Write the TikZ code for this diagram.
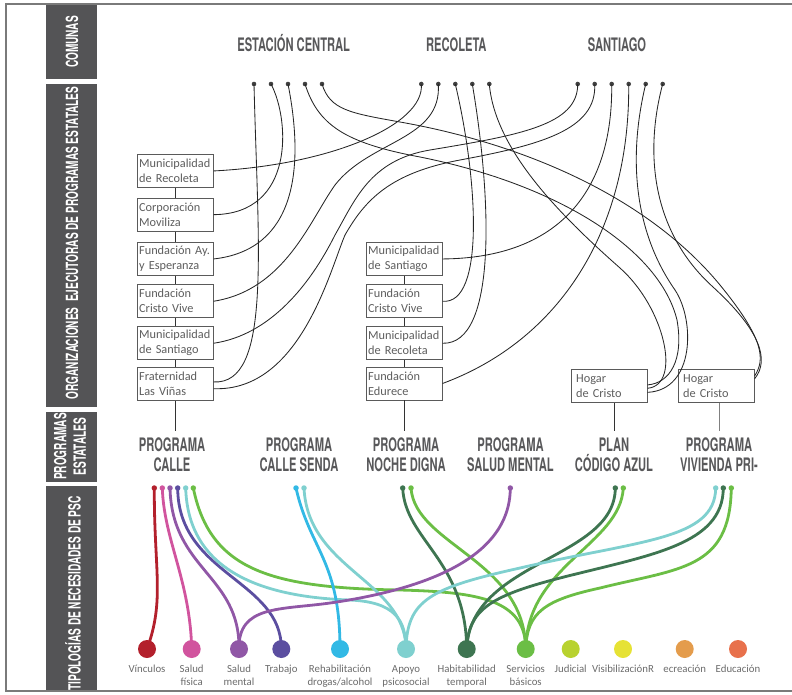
\documentclass[tikz,border=0pt]{standalone}
\usepackage{fontspec}
\setmainfont{Carlito}
\newfontfamily\headfont[FakeStretch=0.6]{TeX Gyre Heros}
\usetikzlibrary{calc}
\usepackage{xcolor}

\definecolor{sidegray}{HTML}{545456}
\definecolor{headgray}{HTML}{58585A}
\definecolor{boxtext}{HTML}{5E5E5E}
\definecolor{boxline}{HTML}{5A5A5A}
\definecolor{lbltext}{HTML}{6B6B6B}
\definecolor{framegray}{HTML}{7A7A7A}
\definecolor{vinc}{HTML}{B3202C}
\definecolor{sfis}{HTML}{D1549E}
\definecolor{smen}{HTML}{9057A6}
\definecolor{trab}{HTML}{5B4EA0}
\definecolor{rehab}{HTML}{32B9E5}
\definecolor{apoy}{HTML}{7FD0CF}
\definecolor{habi}{HTML}{3E7551}
\definecolor{serv}{HTML}{6BBE45}
\definecolor{judi}{HTML}{B8D22F}
\definecolor{visi}{HTML}{E6E235}
\definecolor{recr}{HTML}{E49C4C}
\definecolor{educ}{HTML}{E8714C}

\pgfdeclarelayer{back}
\pgfsetlayers{back,main}

\begin{document}
\begin{tikzpicture}[x=1pt,y=-1pt,
  comuna/.style={font={\headfont\bfseries\fontsize{18.6}{20}\selectfont},text=headgray,anchor=base,inner sep=0},
  prog/.style={font={\headfont\bfseries\fontsize{18.6}{20}\selectfont},text=headgray,align=center,anchor=north,inner xsep=0,inner ysep=7pt},
  sidetext/.style={font={\headfont\bfseries\fontsize{16.8}{19.5}\selectfont},text=white,align=center,rotate=90,inner sep=0},
  orgbox/.style={draw=boxline,line width=0.9pt,fill=white,text=boxtext,font=\fontsize{12.3}{15}\selectfont,
    text width=72pt,align=left,minimum height=33pt,inner xsep=2pt,inner ysep=1pt,anchor=north west},
  hogbox/.style={orgbox,text width=66pt,inner xsep=5pt},
  cdot/.style={circle,fill=black!75,inner sep=0,minimum size=4.6pt},
  pdot/.style={circle,inner sep=0,minimum size=5.5pt},
  bigdot/.style={circle,inner sep=0,minimum size=18pt},
  wire/.style={draw=black!85,line width=0.85pt},
  link/.style={draw=black!80,line width=0.9pt},
  thread/.style={line width=2.8pt},
  lbl/.style={font=\fontsize{10.8}{12.5}\selectfont,text=lbltext,align=center,anchor=north,inner sep=0}]

  \useasboundingbox (0,0) rectangle (792,694);

  \draw[framegray,line width=2.5pt] (792,4) -- (6,4) -- (6,691) -- (792,691);

  \fill[sidegray] (46,5) rectangle (97,79);
  \fill[sidegray] (46,84) rectangle (97,407);
  \fill[sidegray] (46,411.5) rectangle (97,481.5);
  \fill[sidegray] (46,486) rectangle (97,690);

  \node[sidetext] (tcom) at (72,42) {COMUNAS};
  \node[sidetext] (torg) at (72,243) {ORGANIZACIONES\ \ EJECUTORAS DE PROGRAMAS ESTATALES};
  \node[sidetext] (tprog) at (70,446.5) {PROGRAMAS\\ESTATALES};
  \node[sidetext] (ttip) at (73,593.5) {TIPOLOGÍAS DE NECESIDADES DE PSC};

  \node[comuna] (hec) at (293.7,51.7) {ESTACIÓN CENTRAL};
  \node[comuna] (hrec) at (456.3,51.7) {RECOLETA};
  \node[comuna] (hsan) at (617,51.7) {SANTIAGO};

  \foreach \i/\x in {1/254,2/271,3/288,4/305,5/322}
    \node[cdot] (ec\i) at (\x,84) {};
  \foreach \i/\x in {1/421.3,2/438.3,3/455.3,4/472.3,5/489.3}
    \node[cdot] (rec\i) at (\x,84) {};
  \foreach \i/\x in {1/577.7,2/594.7,3/611.7,4/628.7,5/645.7,6/662.7}
    \node[cdot] (san\i) at (\x,84) {};

  \node[orgbox] (mrec) at (136.7,154) {Municipalidad\\de Recoleta};
  \node[orgbox] (cmov) at (136.7,197.7) {Corporación\\Moviliza};
  \node[orgbox] (fay) at (136.7,242) {Fundación Ay.\\y Esperanza};
  \node[orgbox] (fcv) at (136.7,284.3) {Fundación\\Cristo Vive};
  \node[orgbox] (msan) at (136.7,326.3) {Municipalidad\\de Santiago};
  \node[orgbox] (flv) at (136.7,367) {Fraternidad\\Las Viñas};

  \node[orgbox] (msan2) at (365.7,242) {Municipalidad\\de Santiago};
  \node[orgbox] (fcv2) at (365.7,284.3) {Fundación\\Cristo Vive};
  \node[orgbox] (mrec2) at (365.7,326.3) {Municipalidad\\de Recoleta};
  \node[orgbox] (fedu) at (365.7,366.5) {Fundación\\Edurece};

  \node[hogbox] (hog1) at (570.7,369.3) {Hogar\\de Cristo};
  \node[hogbox] (hog2) at (677.7,369.3) {Hogar\\de Cristo};

  \node[prog] (pcalle) at (172,431) {PROGRAMA\\CALLE};
  \node[prog] (psenda) at (299,431) {PROGRAMA\\CALLE SENDA};
  \node[prog] (pnoche) at (406,431) {PROGRAMA\\NOCHE DIGNA};
  \node[prog] (psalud) at (510.5,431) {PROGRAMA\\SALUD MENTAL};
  \node[prog] (pazul) at (614,431) {PLAN\\CÓDIGO AZUL};
  \node[prog] (pviv) at (719,431) {PROGRAMA\\VIVIENDA PRI-};

  \foreach \a/\b in {mrec/cmov,cmov/fay,fay/fcv,fcv/msan,msan/flv,flv/pcalle,
                     msan2/fcv2,fcv2/mrec2,mrec2/fedu,fedu/pnoche}
    \draw[link] (\a.south) -- (\a.south |- \b.north);
  \draw[link] (pazul.north |- hog1.south) -- (pazul.north);
  \draw[link,draw=black!50] (pviv.north |- hog2.south) -- (pviv.north);

  \draw[wire] (ec1.center) .. controls (258,250) and (272,385) .. (flv.3);
  \draw[wire] (ec2.center) .. controls (290,120) and (295,214) .. (cmov.east);
  \draw[wire] (ec3.center) .. controls (305,170) and (295,250) .. (fay.east);
  \draw[wire] (ec4.center) .. controls (318,125) and (345,143) .. (420,157)
    .. controls (560,185) and (660,250) .. (677,320) .. controls (684,360) and (670,383) .. (hog1.2);
  \draw[wire] (ec5.center) .. controls (330,110) and (350,113) .. (400,122)
    .. controls (530,145) and (650,200) .. (720,285) .. controls (765,340) and (765,360) .. (hog2.15);

  \draw[wire] (rec1.center) .. controls (425,125) and (330,165) .. (mrec.east);
  \draw[wire] (rec2.center) .. controls (442,140) and (370,140) .. (335,185)
    .. controls (310,220) and (285,290) .. (fcv.east);
  \draw[wire] (rec3.center) .. controls (478,180) and (485,305) .. (fcv2.east);
  \draw[wire] (rec4.center) .. controls (492,200) and (497,345) .. (mrec2.east);
  \draw[wire] (rec5.center) .. controls (495,150) and (560,215) .. (620,268)
    .. controls (665,308) and (682,385) .. (hog1.-3);

  \draw[wire] (san1.center) .. controls (578,125) and (520,135) .. (430,150)
    .. controls (370,160) and (355,200) .. (335,235) .. controls (310,285) and (270,335) .. (msan.east);
  \draw[wire] (san2.center) .. controls (597,130) and (540,145) .. (460,160)
    .. controls (390,173) and (365,200) .. (345,235) .. controls (330,270) and (300,392) .. (flv.-7);
  \draw[wire] (san3.center) .. controls (613,190) and (560,258) .. (msan2.east);
  \draw[wire] (san4.center) .. controls (630,230) and (560,340) .. (fedu.east);
  \draw[wire] (san5.center) .. controls (625,170) and (640,240) .. (675,290)
    .. controls (695,320) and (695,390) .. (hog1.-9);
  \draw[wire] (san6.center) .. controls (645,150) and (650,230) .. (713,287)
    .. controls (760,330) and (770,360) .. (hog2.11);

  \foreach \n/\x/\col in {c1/154.3/vinc,c2/162.3/sfis,c3/170/smen,c4/177.7/trab,c5/185.7/apoy,c6/193.3/serv,
                          s1/296/rehab,s2/304/apoy,n1/402.7/habi,n2/411/serv,m1/510.3/smen,
                          a1/615.3/habi,a2/623.3/serv,v1/715.7/apoy,v2/723.3/habi,v3/731.3/serv}
    \node[pdot,fill=\col] (\n) at (\x,488) {};

  \foreach \n/\x/\col/\txt in {nv/147/vinc/Vínculos,nsf/191.7/sfis/{Salud\\física},nsm/239/smen/{Salud\\mental},
                              ntr/281.3/trab/Trabajo,nrh/340/rehab/{Rehabilitación\\drogas/alcohol},
                              nap/406/apoy/{Apoyo\\psicosocial},nha/466.7/habi/{Habitabilidad\\temporal},
                              nsb/525.7/serv/{Servicios\\básicos},nju/570.7/judi/Judicial,
                              nvi/623/visi/VisibilizaciónR,nre/684.7/recr/ecreación,ned/738/educ/Educación}{
    \node[bigdot,fill=\col] (\n) at (\x,649) {};
    \node[lbl] (l\n) at (\x,663.8) {\rule{0pt}{8.5pt}\txt};
  }

  \begin{pgfonlayer}{back}
    \draw[thread,vinc] (c1.center) .. controls (154,570) and (165,600) .. (nv.center);
    \draw[thread,sfis] (c2.center) .. controls (164,540) and (190,580) .. (nsf.center);
    \draw[thread,smen] (c3.center) .. controls (172,570) and (240,575) .. (nsm.center);
    \draw[thread,trab] (c4.center) .. controls (178,575) and (282,580) .. (ntr.center);
    \draw[thread,apoy] (c5.center) .. controls (188,570) and (260,597) .. (350,600)
      .. controls (395,602) and (406,620) .. (nap.center);
    \draw[thread,serv] (c6.center) .. controls (210,570) and (270,588) .. (400,590)
      .. controls (480,592) and (525.7,600) .. (nsb.center);
    \draw[thread,rehab] (s1.center) .. controls (310,550) and (340,560) .. (nrh.center);
    \draw[thread,apoy] (s2.center) .. controls (308,570) and (405,580) .. (nap.center);
    \draw[thread,habi] (n1.center) .. controls (405,540) and (466,560) .. (nha.center);
    \draw[thread,serv] (n2.center) .. controls (415,545) and (525,560) .. (nsb.center);
    \draw[thread,smen] (m1.center) .. controls (510,560) and (420,590) .. (330,603)
      .. controls (280,610) and (238,605) .. (nsm.center);
    \draw[thread,habi] (a1.center) .. controls (615,560) and (470,560) .. (nha.center);
    \draw[thread,serv] (a2.center) .. controls (620,545) and (527,565) .. (nsb.center);
    \draw[thread,apoy] (v1.center) .. controls (715,540) and (640,540) .. (520,568)
      .. controls (430,588) and (407,600) .. (nap.center);
    \draw[thread,habi] (v2.center) .. controls (723,545) and (650,555) .. (560,578)
      .. controls (490,596) and (468,610) .. (nha.center);
    \draw[thread,serv] (v3.center) .. controls (730,570) and (680,568) .. (600,588)
      .. controls (545,600) and (527,612) .. (nsb.center);
  \end{pgfonlayer}

\end{tikzpicture}
\end{document}
